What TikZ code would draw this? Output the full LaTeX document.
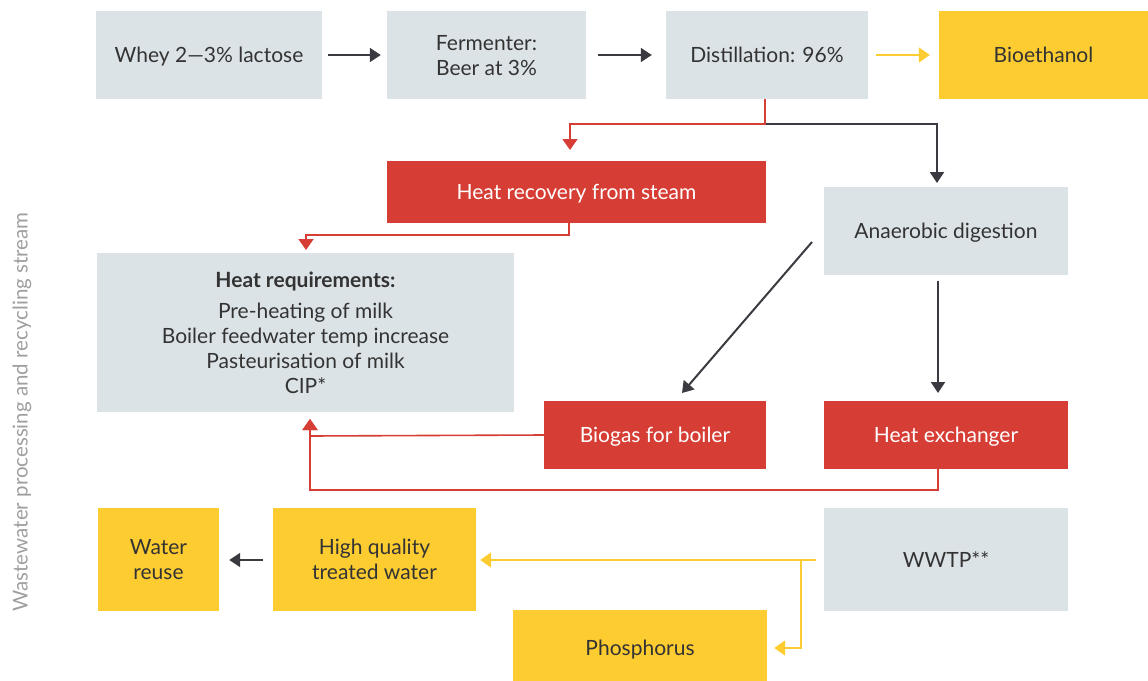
\documentclass[tikz,border=0pt]{standalone}
\usepackage{fontspec}
\setmainfont{Lato}
\usetikzlibrary{arrows.meta}
\definecolor{boxgrey}{HTML}{DCE3E6}
\definecolor{boxred}{HTML}{D63E35}
\definecolor{boxyellow}{HTML}{FDCC31}
\definecolor{darkline}{HTML}{3A3A40}
\definecolor{txtdark}{HTML}{333333}
\tikzset{
  box/.style={rectangle, inner sep=0pt, align=center, text depth=0pt, font=\fontsize{21}{25}\selectfont},
  greybox/.style={box, fill=boxgrey, text=txtdark},
  redbox/.style={box, fill=boxred, text=white},
  yellowbox/.style={box, fill=boxyellow, text=txtdark},
  darkarrow/.style={draw=darkline, line width=2pt, -{Triangle[width=14pt,length=11pt]}},
  redarrow/.style={draw=boxred, line width=1.6pt, -{Triangle[width=15pt,length=11pt]}},
  yellowarrow/.style={draw=boxyellow, line width=2pt, -{Triangle[width=15pt,length=11pt]}},
}
\begin{document}
\begin{tikzpicture}[x=1pt,y=-1pt]
\useasboundingbox (0,0) rectangle (1148,680);
% nodes
\node[greybox, minimum width=226, minimum height=88] (whey) at (209,55) {Whey 2—3\% lactose};
\node[greybox, minimum width=199, minimum height=88] (ferm) at (486.5,55) {Fermenter:\\Beer at 3\%};
\node[greybox, minimum width=202, minimum height=88] (dist) at (767,55) {Distillation: 96\%};
\node[yellowbox, minimum width=209, minimum height=88] (bio) at (1043.5,55) {Bioethanol};
\node[redbox, minimum width=379, minimum height=62] (hr) at (576.5,192) {Heat recovery from steam};
\node[greybox, minimum width=244, minimum height=88] (ad) at (946,231) {Anaerobic digestion};
\node[greybox, minimum width=417, minimum height=159] (req) at (305.5,332.5) {\textbf{Heat requirements:}\\[6pt]Pre-heating of milk\\Boiler feedwater temp increase\\Pasteurisation of milk\\CIP*};
\node[redbox, minimum width=222, minimum height=68] (bg) at (655,435) {Biogas for boiler};
\node[redbox, minimum width=244, minimum height=68] (hx) at (946,435) {Heat exchanger};
\node[yellowbox, minimum width=121, minimum height=103] (wr) at (158.5,559.5) {Water\\reuse};
\node[yellowbox, minimum width=203, minimum height=103] (hq) at (374.5,559.5) {High quality\\treated water};
\node[greybox, minimum width=244, minimum height=103] (ww) at (946,559.5) {WWTP**};
\node[yellowbox, minimum width=254, minimum height=76] (ph) at (640,648) {Phosphorus};
\node[rotate=90, text=gray!75, font=\fontsize{20.5}{24}\selectfont] (side) at (22,412) {Wastewater processing and recycling stream};
% coordinates
\coordinate (split) at (765,124);
\coordinate (hrdown) at (569,235);
\coordinate (hxdown) at (938,490);
\coordinate (wwsplit) at (801,560);
% connectors
\draw[darkarrow] ([xshift=6]whey.east) -- ([xshift=-6]ferm.west);
\draw[darkarrow] ([xshift=12]ferm.east) -- ([xshift=-14]dist.west);
\draw[yellowarrow, line width=1.5pt] ([xshift=8]dist.east) -- ([xshift=-9]bio.west);
\draw[darkarrow] (split) -- (937,124) -- (937,183);
\draw[redarrow] (dist.south -| split) -- (split) -| (570,150);
\draw[redarrow] (hr.south -| hrdown) -- (hrdown) -| (306,250);
\draw[darkarrow] (812,242) -- (682,393);
\draw[darkarrow] (938,281) -- (938,393);
\draw[redarrow] (bg.west) -- (310,436) -- (310,419);
\draw[redarrow] (hx.south -| hxdown) -- (hxdown) -| (310,419);
\draw[yellowarrow] (816,560) -- ([xshift=4]hq.east |- 0,560);
\draw[yellowarrow] (wwsplit) |- ([xshift=7]ph.east |- 0,648);
\draw[darkarrow] (263,560) -- ([xshift=10]wr.east |- 0,560);
\end{tikzpicture}
\end{document}
